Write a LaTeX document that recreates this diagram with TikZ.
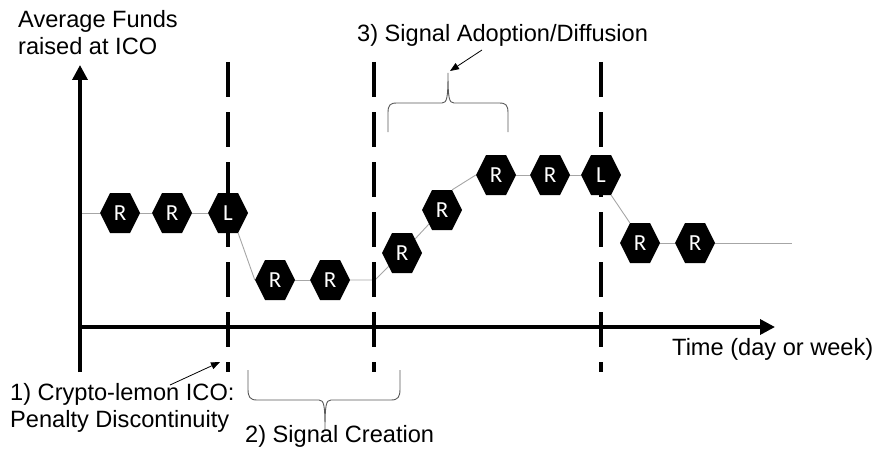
\documentclass[tikz,border=0pt]{standalone}
\usepackage{fontspec}
\setmainfont{Liberation Sans}
\newfontfamily\hexfont{Carlito}
\usetikzlibrary{arrows.meta,backgrounds}
\begin{document}
\begin{tikzpicture}[x=1pt,y=-1pt,
  hexn/.style={minimum width=40pt,minimum height=40pt,inner sep=0pt,text=white,
    font=\hexfont\fontsize{23}{23}\selectfont,
    path picture={\fill[black] (path picture bounding box.west)
      -- ([xshift=10pt]path picture bounding box.north west)
      -- ([xshift=-10pt]path picture bounding box.north east)
      -- (path picture bounding box.east)
      -- ([xshift=-10pt]path picture bounding box.south east)
      -- ([xshift=10pt]path picture bounding box.south west) -- cycle;}},
  lbl/.style={anchor=base west,inner sep=0pt,font=\fontsize{23.6}{27}\selectfont},
  axis/.style={line width=3.5pt,-{Triangle[length=15pt,width=15pt]}},
  divider/.style={line width=4pt,dash pattern=on 35pt off 15pt},
  conn/.style={draw=black!35,line width=0.9pt},
  bracestyle/.style={draw=black!65,line width=0.9pt},
  pointer/.style={line width=0.8pt,-{Triangle[length=9pt,width=7pt]}}]
\useasboundingbox (0,0) rectangle (876,460);

% dividers
\draw[divider] (228,62) -- (228,372);
\draw[divider] (374,62) -- (374,372);
\draw[divider] (601,62) -- (601,372);

% axes
\draw[axis] (80,372) -- (80,65);
\draw[axis] (78,327) -- (775,327);

% hexagons
\node[hexn] (a1) at (120,213) {R};
\node[hexn] (a2) at (172,213) {R};
\node[hexn] (a3) at (228,213) {L};
\node[hexn] (b1) at (275,280) {R};
\node[hexn] (b2) at (330,280) {R};
\node[hexn] (c1) at (402,253) {R};
\node[hexn] (c2) at (442,210) {R};
\node[hexn] (d1) at (496,175) {R};
\node[hexn] (d2) at (550,175) {R};
\node[hexn] (d3) at (601,175) {L};
\node[hexn] (e1) at (640,243) {R};
\node[hexn] (e2) at (695,243) {R};

\coordinate (s0) at (82,213);
\coordinate (j1) at (375,280);
\coordinate (s9) at (792,243);

\begin{scope}[on background layer]
\draw[conn] (s0) -- (a1.west);
\draw[conn] (a1.east) -- (a2.west);
\draw[conn] (a2.east) -- (a3.west);
\draw[conn] ([xshift=-10pt]a3.south east) -- (b1.west);
\draw[conn] (b1.east) -- (b2.west);
\draw[conn] (b2.east) -- (j1) -- (c1.center) -- (c2.center);
\draw[conn] ([xshift=-10pt]c2.north east) -- (d1.west);
\draw[conn] (d1.east) -- (d2.west);
\draw[conn] (d2.east) -- (d3.west);
\draw[conn] ([xshift=-10pt]d3.south east) -- ([xshift=10pt]e1.north west);
\draw[conn] (e1.east) -- (e2.west);
\draw[conn] (e2.east) -- (s9);
\end{scope}

% braces
\draw[bracestyle] (388,132) -- (388,113) .. controls (388,105) and (390,103) .. (397,103)
  -- (442,103) .. controls (447,103) and (448,98) .. (448,73)
  .. controls (448,98) and (449,103) .. (454,103) -- (499,103)
  .. controls (506,103) and (508,105) .. (508,113) -- (508,132);
\draw[bracestyle] (248,370) -- (248,389) .. controls (248,397) and (250,400) .. (257,400)
  -- (319,400) .. controls (324,400) and (325,405) .. (325,430)
  .. controls (325,405) and (326,400) .. (331,400) -- (391,400)
  .. controls (398,400) and (400,397) .. (400,389) -- (400,370);

% labels
\node[lbl] (ya1) at (18,28) {Average Funds};
\node[lbl] (ya2) at (18,55) {raised at ICO};
\node[lbl] (xl) at (672,355) {Time (day or week)};
\node[lbl] (l3) at (357,42) {3) Signal Adoption/Diffusion};
\node[lbl] (l1a) at (10,400) {1) Crypto-lemon ICO:};
\node[lbl] (l1b) at (10,427) {Penalty Discontinuity};
\node[lbl] (l2) at (245,442) {2) Signal Creation};

% pointers
\coordinate (p3s) at (482,50);
\coordinate (p3e) at (450,71);
\coordinate (p1s) at (170,385);
\coordinate (p1e) at (220,362);
\draw[pointer] (p3s) -- (p3e);
\draw[pointer] (p1s) -- (p1e);
\end{tikzpicture}
\end{document}
